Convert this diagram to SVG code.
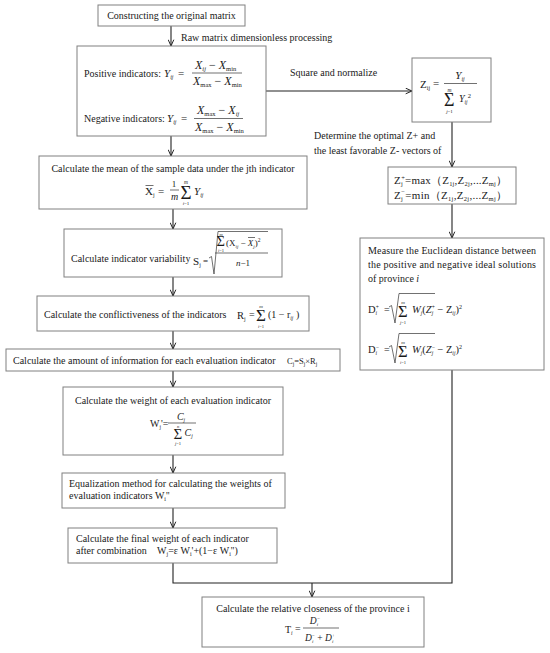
<svg xmlns="http://www.w3.org/2000/svg" width="550" height="653" viewBox="0 0 550 653">
<style>
.box{fill:#fff;stroke:#808080;stroke-width:1}
.t{font-family:"Liberation Serif","Times New Roman",serif;font-size:10px;fill:#1a1a1a}
.f{font-family:"Liberation Serif","Times New Roman",serif;fill:#1a1a1a}
.i{font-style:italic}
.conn{fill:none;stroke:#222;stroke-width:1.1}
.ln{fill:none;stroke:#333;stroke-width:0.7}
</style>
<defs>
<marker id="arr" viewBox="0 0 10 10" refX="10" refY="5" markerWidth="7" markerHeight="7" orient="auto" markerUnits="userSpaceOnUse">
<path d="M1,1 L10,5 L1,9" fill="none" stroke="#222" stroke-width="1.4"/>
</marker>
</defs>
<rect width="550" height="653" fill="#fff"/>

<g id="connectors">
<line class="conn" x1="171" y1="26" x2="171" y2="46" marker-end="url(#arr)"/>
<line class="conn" x1="266" y1="91" x2="412" y2="91" marker-end="url(#arr)"/>
<line class="conn" x1="171" y1="136" x2="171" y2="156" marker-end="url(#arr)"/>
<line class="conn" x1="173" y1="209" x2="173" y2="229" marker-end="url(#arr)"/>
<line class="conn" x1="173" y1="277" x2="173" y2="296" marker-end="url(#arr)"/>
<line class="conn" x1="173" y1="331" x2="173" y2="349" marker-end="url(#arr)"/>
<line class="conn" x1="173" y1="371" x2="173" y2="387" marker-end="url(#arr)"/>
<line class="conn" x1="173" y1="455" x2="173" y2="473" marker-end="url(#arr)"/>
<line class="conn" x1="173" y1="508" x2="173" y2="528" marker-end="url(#arr)"/>
<line class="conn" x1="452" y1="122" x2="452" y2="167" marker-end="url(#arr)"/>
<line class="conn" x1="452" y1="204" x2="452" y2="238" marker-end="url(#arr)"/>
<polyline class="conn" points="173,563 173,583 452,583 452,370"/>
<line class="conn" x1="312" y1="583" x2="312" y2="597" marker-end="url(#arr)"/>
<text class="t" x="181" y="41">Raw matrix dimensionless processing</text>
<text class="t" x="290" y="76">Square and normalize</text>
<text class="t" x="314" y="139">Determine the optimal Z+ and</text>
<text class="t" x="314" y="154">the least favorable Z- vectors of</text>
</g>

<g id="n1">
<rect class="box" x="98" y="5" width="147" height="21"/>
<text class="t" x="171.5" y="19" text-anchor="middle">Constructing the original matrix</text>
</g>

<g id="n2">
<rect class="box" x="77" y="46" width="189" height="90"/>
<text class="t" x="84" y="77">Positive indicators:</text>
<text class="f i" x="164" y="77" font-size="11">Y<tspan font-size="6" dy="2">ij</tspan></text>
<text class="f" x="178" y="77" font-size="11">=</text>
<text class="f i" x="195" y="69" font-size="12">X<tspan font-size="6.5" dy="2">ij</tspan><tspan dy="-2" font-style="normal"> − </tspan>X<tspan font-size="6.5" dy="2" font-style="normal">min</tspan></text>
<line class="ln" x1="192" y1="73" x2="242" y2="73"/>
<text class="f i" x="193" y="85" font-size="12">X<tspan font-size="6.5" dy="2" font-style="normal">max</tspan><tspan dy="-2" font-style="normal"> − </tspan>X<tspan font-size="6.5" dy="2" font-style="normal">min</tspan></text>
<text class="t" x="84" y="122">Negative indicators:</text>
<text class="f i" x="167" y="122" font-size="11">Y<tspan font-size="6" dy="2">ij</tspan></text>
<text class="f" x="181" y="122" font-size="11">=</text>
<text class="f i" x="197" y="114" font-size="12">X<tspan font-size="6.5" dy="2" font-style="normal">max</tspan><tspan dy="-2" font-style="normal"> − </tspan>X<tspan font-size="6.5" dy="2">ij</tspan></text>
<line class="ln" x1="194" y1="118.5" x2="243" y2="118.5"/>
<text class="f i" x="195" y="130.5" font-size="12">X<tspan font-size="6.5" dy="2" font-style="normal">max</tspan><tspan dy="-2" font-style="normal"> − </tspan>X<tspan font-size="6.5" dy="2" font-style="normal">min</tspan></text>
</g>

<g id="n3">
<rect class="box" x="39" y="156" width="268" height="53"/>
<text class="t" x="173" y="172" text-anchor="middle">Calculate the mean of the sample data under the jth indicator</text>
<line class="ln" x1="145.5" y1="185.5" x2="153.5" y2="185.5"/>
<text class="f" x="145" y="195" font-size="11">X<tspan font-size="6" dy="2">j</tspan></text>
<text class="f" x="158" y="195" font-size="11">=</text>
<text class="f" x="174" y="187" font-size="9" text-anchor="middle">1</text>
<line class="ln" x1="170" y1="190" x2="179" y2="190"/>
<text class="f i" x="174.5" y="200" font-size="10" text-anchor="middle">m</text>
<text class="f" x="180.5" y="198.5" font-size="19">Σ</text>
<text class="f i" x="186" y="183.5" font-size="5.5" text-anchor="middle">m</text>
<text class="f" x="186" y="205" font-size="5" text-anchor="middle"><tspan font-style="italic">i</tspan>=1</text>
<text class="f i" x="194" y="195" font-size="11">Y<tspan font-size="6" dy="2">ij</tspan></text>
</g>

<g id="n4">
<rect class="box" x="64" y="229" width="218" height="48"/>
<text class="t" x="71" y="262">Calculate indicator variability</text>
<text class="f" x="193" y="265" font-size="11">S<tspan font-size="6" dy="2">j</tspan></text>
<text class="f" x="203" y="264" font-size="9">=</text>
<path class="ln" d="M209,258 L211.5,256.5 L214,274 L218,231.5 L268,231.5"/>
<text class="f" x="216.5" y="246" font-size="14.5">Σ</text>
<text class="f i" x="221" y="235.5" font-size="4.5" text-anchor="middle">m</text>
<text class="f" x="221" y="251.5" font-size="4.5" text-anchor="middle"><tspan font-style="italic">i</tspan>=1</text>
<text class="f" x="226" y="246" font-size="9">(X<tspan font-size="5" dy="1.5" font-style="italic">ij</tspan><tspan dy="-1.5"> − </tspan><tspan font-style="italic">X</tspan><tspan font-size="5" dy="1.5" font-style="italic">j</tspan><tspan dy="-1.5">)</tspan><tspan font-size="5.5" dy="-4">2</tspan></text>
<line class="ln" x1="248" y1="237.5" x2="255" y2="237.5"/>
<line class="ln" x1="215" y1="253" x2="268" y2="253"/>
<text class="f" x="243" y="266" font-size="9" text-anchor="middle"><tspan font-style="italic">n</tspan>−1</text>
</g>

<g id="n5">
<rect class="box" x="37" y="296" width="272" height="35"/>
<text class="t" x="44" y="318">Calculate the conflictiveness of the indicators</text>
<text class="f" x="237" y="319" font-size="10.5">R<tspan font-size="6" dy="2">j</tspan></text>
<text class="f" x="249" y="318" font-size="10">=</text>
<text class="f" x="256" y="320.5" font-size="17">Σ</text>
<text class="f i" x="261" y="307.5" font-size="5" text-anchor="middle">m</text>
<text class="f" x="261" y="327.5" font-size="4.5" text-anchor="middle"><tspan font-style="italic">i</tspan>=1</text>
<text class="f" x="268" y="318" font-size="10">(1 − r<tspan font-size="5.5" dy="2" font-style="italic">ij</tspan><tspan dy="-2"> )</tspan></text>
</g>

<g id="n6">
<rect class="box" x="6" y="349" width="334" height="22"/>
<text class="t" x="13" y="364">Calculate the amount of information for each evaluation indicator</text>
<text class="f" x="287" y="364" font-size="8.5">C<tspan font-size="5.5" dy="1.5">j</tspan><tspan dy="-1.5">=S</tspan><tspan font-size="5.5" dy="1.5">j</tspan><tspan dy="-1.5">×R</tspan><tspan font-size="5.5" dy="1.5">j</tspan></text>
</g>

<g id="n7">
<rect class="box" x="63" y="387" width="220" height="68"/>
<text class="t" x="173" y="404" text-anchor="middle">Calculate the weight of each evaluation indicator</text>
<text class="f" x="150" y="427" font-size="10">W<tspan font-size="5.5" dy="2">j</tspan><tspan dy="-2">'=</tspan></text>
<line class="ln" x1="168" y1="423" x2="196" y2="423"/>
<text class="f i" x="181" y="420" font-size="10" text-anchor="middle">C<tspan font-size="5.5" dy="2">j</tspan></text>
<text class="f" x="173.5" y="438.5" font-size="15">Σ</text>
<text class="f i" x="178" y="427.5" font-size="4.5" text-anchor="middle">n</text>
<text class="f" x="178" y="444.5" font-size="4.5" text-anchor="middle"><tspan font-style="italic">j</tspan>=1</text>
<text class="f i" x="184.5" y="436" font-size="10">C<tspan font-size="5.5" dy="2">j</tspan></text>
</g>

<g id="n8">
<rect class="box" x="62" y="473" width="223" height="35"/>
<text class="t" x="69" y="487">Equalization method for calculating the weights of</text>
<text class="t" x="69" y="499">evaluation indicators W<tspan font-size="6" dy="2">i</tspan><tspan dy="-2">''</tspan></text>
</g>

<g id="n9">
<rect class="box" x="68" y="528" width="209" height="35"/>
<text class="t" x="76" y="542">Calculate the final weight of each indicator</text>
<text class="t" x="76" y="554">after combination</text>
<text class="t" x="157" y="554">W<tspan font-size="6" dy="2">j</tspan><tspan dy="-2">=ε W</tspan><tspan font-size="6" dy="2">i</tspan><tspan dy="-2">'+(1−ε W</tspan><tspan font-size="6" dy="2">i</tspan><tspan dy="-2">'')</tspan></text>
</g>

<g id="n10">
<rect class="box" x="388" y="167" width="128" height="37"/>
<text class="f" x="394" y="184" font-size="11" textLength="113" lengthAdjust="spacing" font-family="'Liberation Serif','Noto Sans CJK SC',serif">Z<tspan font-size="6.5" dy="2">j</tspan><tspan font-size="6.5" dx="-1.8" dy="-6.5">+</tspan><tspan dy="4.5">=max（Z</tspan><tspan font-size="6.5" dy="2">1j</tspan><tspan dy="-2">,Z</tspan><tspan font-size="6.5" dy="2">2j</tspan><tspan dy="-2">,...Z</tspan><tspan font-size="6.5" dy="2">mj</tspan><tspan dy="-2">）</tspan></text>
<text class="f" x="394" y="198.5" font-size="11" textLength="113" lengthAdjust="spacing" font-family="'Liberation Serif','Noto Sans CJK SC',serif">Z<tspan font-size="6.5" dy="2">j</tspan><tspan font-size="6.5" dx="-1.8" dy="-6.5">−</tspan><tspan dy="4.5">=min（Z</tspan><tspan font-size="6.5" dy="2">1j</tspan><tspan dy="-2">,Z</tspan><tspan font-size="6.5" dy="2">2j</tspan><tspan dy="-2">,...Z</tspan><tspan font-size="6.5" dy="2">mj</tspan><tspan dy="-2">）</tspan></text>
</g>

<g id="n11">
<rect class="box" x="412" y="58" width="79" height="64"/>
<text class="f" x="420" y="88" font-size="11">Z<tspan font-size="6" dy="2">ij</tspan></text>
<text class="f" x="433" y="87" font-size="11">=</text>
<text class="f i" x="460" y="79" font-size="11" text-anchor="middle">Y<tspan font-size="6" dy="2">ij</tspan></text>
<line class="ln" x1="444" y1="83.5" x2="477" y2="83.5"/>
<text class="f" x="444" y="105.5" font-size="18">Σ</text>
<text class="f i" x="449.5" y="91.5" font-size="5.5" text-anchor="middle">m</text>
<text class="f" x="449.5" y="112.5" font-size="5" text-anchor="middle"><tspan font-style="italic">j</tspan>=1</text>
<text class="f i" x="459" y="102" font-size="10">Y<tspan font-size="5.5" dy="2">ij</tspan><tspan font-size="6.5" font-style="normal" dy="-6.5">2</tspan></text>
</g>

<g id="n12">
<rect class="box" x="360" y="238" width="184" height="132"/>
<text class="t" x="368" y="254" textLength="168" lengthAdjust="spacing">Measure the Euclidean distance between</text>
<text class="t" x="368" y="268" textLength="168" lengthAdjust="spacing">the positive and negative ideal solutions</text>
<text class="t" x="368" y="282">of province <tspan font-style="italic">i</tspan></text>
<text class="f" x="368" y="313" font-size="10.5">D<tspan font-size="5.5" dy="2" font-style="italic">i</tspan><tspan font-size="5.5" dx="-1.5" dy="-6.5">+</tspan></text>
<text class="f" x="384" y="313" font-size="10">=</text>
<path class="ln" d="M389,307 L391.5,305.5 L395,323 L399,293.5 L435,293.5"/>
<text class="f" x="398" y="317" font-size="16.5">Σ</text>
<text class="f i" x="403" y="304" font-size="5" text-anchor="middle">m</text>
<text class="f" x="403" y="323.5" font-size="4.5" text-anchor="middle"><tspan font-style="italic">j</tspan>=1</text>
<text class="f i" x="412" y="313" font-size="10.5">W<tspan font-size="5.5" dy="2">j</tspan><tspan dy="-2" font-style="normal">(</tspan>Z<tspan font-size="5.5" dy="2">j</tspan><tspan font-size="5.5" dx="-1.5" dy="-6.5" font-style="normal">+</tspan><tspan dy="4.5" font-style="normal"> − Z</tspan><tspan font-size="5.5" dy="2">ij</tspan><tspan dy="-2" font-style="normal">)</tspan><tspan font-size="6" dy="-4.5" font-style="normal">2</tspan></text>
<text class="f" x="368" y="353" font-size="10.5">D<tspan font-size="5.5" dy="2" font-style="italic">i</tspan><tspan font-size="5.5" dx="-1.5" dy="-6.5">−</tspan></text>
<text class="f" x="384" y="353" font-size="10">=</text>
<path class="ln" d="M389,347 L391.5,345.5 L395,363 L399,333.5 L435,333.5"/>
<text class="f" x="398" y="357" font-size="16.5">Σ</text>
<text class="f i" x="403" y="344" font-size="5" text-anchor="middle">m</text>
<text class="f" x="403" y="363.5" font-size="4.5" text-anchor="middle"><tspan font-style="italic">i</tspan>=1</text>
<text class="f i" x="412" y="353" font-size="10.5">W<tspan font-size="5.5" dy="2">j</tspan><tspan dy="-2" font-style="normal">(</tspan>Z<tspan font-size="5.5" dy="2">j</tspan><tspan font-size="5.5" dx="-1.5" dy="-6.5" font-style="normal">−</tspan><tspan dy="4.5" font-style="normal"> − Z</tspan><tspan font-size="5.5" dy="2">ij</tspan><tspan dy="-2" font-style="normal">)</tspan><tspan font-size="6" dy="-4.5" font-style="normal">2</tspan></text>
</g>

<g id="n13">
<rect class="box" x="202" y="597" width="222" height="50"/>
<text class="t" x="313" y="612" text-anchor="middle">Calculate the relative closeness of the province i</text>
<text class="f" x="285" y="633" font-size="10">T<tspan font-size="5.5" dy="2" font-style="italic">i</tspan></text>
<text class="f" x="295" y="632" font-size="10">=</text>
<text class="f i" x="315" y="624" font-size="9.5" text-anchor="middle">D<tspan font-size="5" dy="2">i</tspan><tspan font-size="5" dx="-1.2" dy="-6">−</tspan></text>
<line class="ln" x1="303" y1="628" x2="339" y2="628"/>
<text class="f i" x="305" y="641" font-size="9.5">D<tspan font-size="5" dy="2">i</tspan><tspan font-size="5" dx="-1.2" dy="-6" font-style="normal">−</tspan><tspan dy="4" font-style="normal"> + </tspan>D<tspan font-size="5" dy="2">i</tspan><tspan font-size="5" dx="-1.2" dy="-6" font-style="normal">+</tspan></text>
</g>
</svg>
